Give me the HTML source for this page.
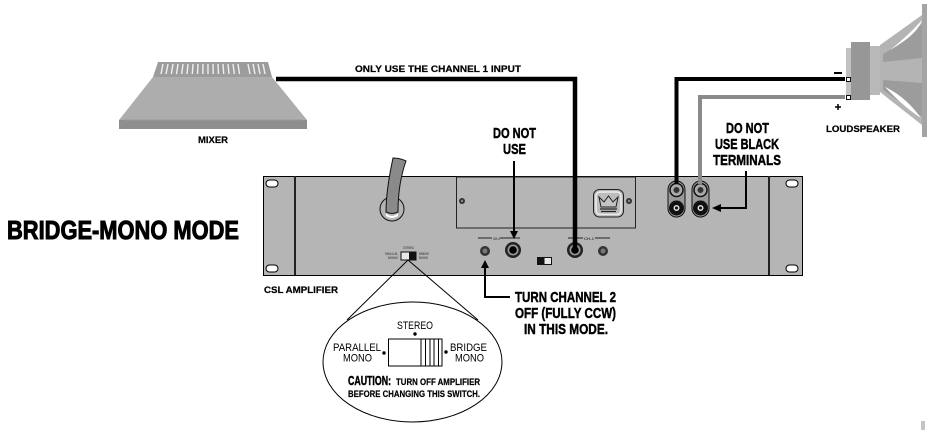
<!DOCTYPE html>
<html><head><meta charset="utf-8"><style>
html,body{margin:0;padding:0;background:#fff;width:941px;height:430px;overflow:hidden}
svg{display:block}
text{font-family:"Liberation Sans",sans-serif;font-weight:bold;fill:#000}
.h{stroke:#000;stroke-width:.45}
.m{stroke:#000;stroke-width:.2}
.n{font-weight:normal}
</style></head><body>
<svg width="941" height="430" viewBox="0 0 941 430" xmlns="http://www.w3.org/2000/svg">
<rect width="941" height="430" fill="#fff"/>

<!-- Mixer -->
<polygon points="158,62 268,62 272,77 153,77" fill="#9c9c9c"/>
<polygon points="153,77 272,77 307,120 119,120" fill="#adadad"/>
<rect x="119" y="120" width="188" height="9" fill="#8e8e8e"/>
<rect x="124" y="119.500" width="178" height="1" fill="#9a9a9a"/>
<g stroke="#f0f0f0" stroke-width="1.400">
<path d="M163,64l-2,10M168,64l-2,10M173,64l-1.700,10M178,64l-1.500,10M183,64l-1.300,10M188,64l-1,10M193,64l-.7,10M198,64l-.5,10M203,64l-.2,10M208,64v10M213,64l.2,10M218,64l.5,10M223,64l.7,10M228,64l1,10M233,64l1.300,10M238,64l1.500,10M248,64l2,10M253,64l2,10M258,64l2,10M263,64l2,10"/>
</g>
<text class="m" x="198" y="143" font-size="9.500" textLength="30" lengthAdjust="spacingAndGlyphs">MIXER</text>

<!-- Amp -->
<rect x="263.500" y="176.500" width="539" height="99" fill="#b5b5b5" stroke="#000" stroke-width="1"/>
<path d="M295,176V275M769,176V275" stroke="#222" stroke-width="2"/>
<g fill="#fff" stroke="#000" stroke-width="1">
<rect x="266" y="180" width="12" height="7" rx="3.500"/>
<rect x="266" y="265" width="12" height="7" rx="3.500"/>
<rect x="786" y="180" width="12" height="7" rx="3.500"/>
<rect x="786" y="265" width="12" height="7" rx="3.500"/>
</g>
<rect x="456.500" y="177" width="179" height="51" fill="#b5b5b5" stroke="#222" stroke-width="1"/>
<circle cx="462" cy="201" r="3" fill="#333"/><circle cx="462" cy="201" r="1.200" fill="#888"/>
<circle cx="629" cy="201" r="3" fill="#333"/><circle cx="629" cy="201" r="1.200" fill="#888"/>
<!-- Grommet and power cord -->
<circle cx="392" cy="209" r="12" fill="#b5b5b5" stroke="#111" stroke-width="1"/>
<path d="M386,213 Q392,219 398,213 L398,216 Q392,220 386,216Z" fill="#fff"/>
<path d="M393,158 C390,172 386,192 386,212 Q392,215 398,212 C398,192 401,175 406,161 Q400,158 393,158 Z" fill="#8a8a8a" stroke="#111" stroke-width="1"/>
<!-- Crown logo -->
<rect x="593.500" y="189.500" width="30" height="27.500" rx="6" fill="#b5b5b5" stroke="#222" stroke-width="1"/>
<rect x="596" y="192" width="25" height="22.500" rx="4" fill="#bdbdbd" stroke="#eee" stroke-width="1.500"/>
<polygon points="599,197 604,202 608.500,196 613,202 618,197 616,207 601,207" fill="#c4c4c4" stroke="#222" stroke-width="1"/>
<path d="M600,209H617M601,211.500H616" stroke="#222" stroke-width="1.300"/>
<!-- Binding posts -->
<rect x="668" y="181" width="17" height="36" rx="8.500" fill="#999" stroke="#111" stroke-width="1"/>
<rect x="692" y="181" width="17" height="36" rx="8.500" fill="#999" stroke="#111" stroke-width="1"/>
<circle cx="676.500" cy="190" r="6.500" fill="#aaa" stroke="#111" stroke-width="1.500"/><circle cx="676.500" cy="190" r="3" fill="#333"/>
<circle cx="700.500" cy="190" r="6.500" fill="#aaa" stroke="#111" stroke-width="1.500"/><circle cx="700.500" cy="190" r="3" fill="#333"/>
<circle cx="676.500" cy="208" r="7.500" fill="#111"/><circle cx="676.500" cy="208" r="3" fill="#ddd"/><circle cx="676.500" cy="208" r="1.500" fill="#111"/>
<circle cx="700.500" cy="208" r="7.500" fill="#111"/><circle cx="700.500" cy="208" r="3" fill="#ddd"/><circle cx="700.500" cy="208" r="1.500" fill="#111"/>
<!-- Channel labels -->
<path d="M478,238H492M500,238H520M568,238H583M595,238H610" stroke="#222" stroke-width="1"/>
<text x="493" y="240" font-size="4" style="fill:#444" textLength="7" lengthAdjust="spacingAndGlyphs">CH-2</text>
<text x="584" y="240" font-size="4" style="fill:#444" textLength="10" lengthAdjust="spacingAndGlyphs">CH-1</text>
<!-- Jacks & knobs -->
<circle cx="485" cy="251" r="5" fill="#333"/><circle cx="485" cy="251" r="2.500" fill="#777"/>
<circle cx="603" cy="251" r="5" fill="#333"/><circle cx="603" cy="251" r="2.500" fill="#777"/>
<circle cx="513" cy="250" r="8" fill="#222"/><circle cx="513" cy="250" r="5.500" fill="#999"/><circle cx="513" cy="250" r="3.800" fill="#000"/>
<circle cx="575" cy="250" r="8" fill="#222"/><circle cx="575" cy="250" r="5.500" fill="#999"/><circle cx="575" cy="250" r="3.800" fill="#000"/>
<!-- small switch -->
<rect x="537.500" y="257.500" width="14" height="7" fill="#e8e8e8" stroke="#111" stroke-width="1"/>
<rect x="537.500" y="257.500" width="7" height="7" fill="#111"/>
<!-- mode switch -->
<rect x="401" y="252" width="15" height="8" fill="#e8e8e8" stroke="#111" stroke-width="1"/>
<rect x="409" y="252" width="7" height="8" fill="#111"/>
<text x="403" y="249" font-size="3.500" style="fill:#555" textLength="11" lengthAdjust="spacingAndGlyphs">STEREO</text>
<text x="385" y="255" font-size="3.500" style="fill:#555" textLength="13" lengthAdjust="spacingAndGlyphs">PARALLEL</text>
<text x="388" y="259" font-size="3.500" style="fill:#555" textLength="10" lengthAdjust="spacingAndGlyphs">MONO</text>
<text x="419" y="255" font-size="3.500" style="fill:#555" textLength="10" lengthAdjust="spacingAndGlyphs">BRIDGE</text>
<text x="419" y="259" font-size="3.500" style="fill:#555" textLength="9" lengthAdjust="spacingAndGlyphs">MONO</text>

<!-- Top cable -->
<path d="M276,79H575V250" fill="none" stroke="#000" stroke-width="4.500"/>

<!-- Speaker -->
<polygon points="880,45 922,15 922,125 880,92" fill="#b4b4b4"/>
<polygon points="883,54 890,50 922,24 922,58 883,62" fill="#9c9c9c"/>
<polygon points="883,80 922,83 922,117 883,90" fill="#9c9c9c"/>
<path d="M890,50 Q908,36 922,20 Q918,34 890,50Z" fill="#fff"/>
<path d="M885,87 Q905,96 921,118 Q905,108 885,87Z" fill="#fff"/>
<rect x="870" y="46" width="10" height="49" fill="#b9b9b9"/>
<rect x="846" y="48" width="5" height="50" fill="#c2c2c2"/>
<rect x="851" y="42" width="19" height="58" fill="#979797"/>
<rect x="922" y="4" width="5" height="133" fill="#a4a4a4"/>
<g fill="#fff" stroke="#111" stroke-width="1">
<rect x="846.500" y="77.500" width="4" height="4"/>
<rect x="846.500" y="95.500" width="4" height="4"/>
</g>
<path d="M676.500,184V79H845" fill="none" stroke="#000" stroke-width="4"/>
<path d="M700,184V97H845" fill="none" stroke="#8a8a8a" stroke-width="4"/>
<rect x="834" y="72" width="8" height="2" fill="#000"/>
<path d="M835,107H841M838,104V110" stroke="#000" stroke-width="1.500"/>

<!-- Labels -->
<text class="m" x="355" y="72" font-size="9.500" textLength="166" lengthAdjust="spacingAndGlyphs">ONLY USE THE CHANNEL 1 INPUT</text>
<text class="m" x="826" y="132" font-size="9.500" textLength="74" lengthAdjust="spacingAndGlyphs">LOUDSPEAKER</text>
<text class="h" x="493" y="138" font-size="14.500" textLength="43" lengthAdjust="spacingAndGlyphs">DO NOT</text>
<text class="h" x="503" y="154" font-size="14.500" textLength="23" lengthAdjust="spacingAndGlyphs">USE</text>
<text class="h" x="726" y="133" font-size="14.500" textLength="43" lengthAdjust="spacingAndGlyphs">DO NOT</text>
<text class="h" x="715" y="149" font-size="14.500" textLength="64" lengthAdjust="spacingAndGlyphs">USE BLACK</text>
<text class="h" x="713" y="165" font-size="14.500" textLength="68" lengthAdjust="spacingAndGlyphs">TERMINALS</text>
<text class="h" x="515" y="302" font-size="14.500" textLength="101" lengthAdjust="spacingAndGlyphs">TURN CHANNEL 2</text>
<text class="h" x="515" y="318" font-size="14.500" textLength="101" lengthAdjust="spacingAndGlyphs">OFF (FULLY CCW)</text>
<text class="h" x="524" y="334" font-size="14.500" textLength="84" lengthAdjust="spacingAndGlyphs">IN THIS MODE.</text>
<text x="7" y="239" font-size="26" textLength="232" lengthAdjust="spacingAndGlyphs" style="stroke:#000;stroke-width:1">BRIDGE-MONO MODE</text>
<text class="m" x="264" y="293" font-size="9.500" textLength="74" lengthAdjust="spacingAndGlyphs">CSL AMPLIFIER</text>

<!-- Arrows -->
<path d="M514,161V232" stroke="#000" stroke-width="2"/>
<polygon points="514,239 510,231 518,231" fill="#000"/>
<path d="M746,171V208H720" fill="none" stroke="#000" stroke-width="2"/>
<polygon points="712,208 721,204 721,212" fill="#000"/>
<path d="M485,266V297H510" fill="none" stroke="#000" stroke-width="2"/>
<polygon points="485,260 481,268 489,268" fill="#000"/>

<!-- Callout -->
<path d="M408,260L347,320M408,260L478,320" stroke="#000" stroke-width="1" fill="none"/>
<ellipse cx="412.500" cy="362" rx="89.500" ry="60" fill="#fff" stroke="#000" stroke-width="1"/>
<rect x="388.500" y="339" width="53.500" height="27" fill="#fff" stroke="#000" stroke-width="1"/>
<path d="M421,339V366M425.500,339V366M430,339V366M434,339V366M438.500,339V366" stroke="#000" stroke-width="1"/>
<g fill="#000"><circle cx="415" cy="334" r="1.700"/><circle cx="384" cy="353" r="1.700"/><circle cx="446" cy="352" r="1.700"/></g>
<text class="n" x="397" y="329" font-size="11" textLength="36" lengthAdjust="spacingAndGlyphs">STEREO</text>
<text class="n" x="333" y="351" font-size="11" textLength="48" lengthAdjust="spacingAndGlyphs">PARALLEL</text>
<text class="n" x="343" y="361.500" font-size="11" textLength="29" lengthAdjust="spacingAndGlyphs">MONO</text>
<text class="n" x="450" y="351" font-size="11" textLength="37" lengthAdjust="spacingAndGlyphs">BRIDGE</text>
<text class="n" x="455" y="361.500" font-size="11" textLength="29" lengthAdjust="spacingAndGlyphs">MONO</text>
<text class="h" x="348" y="385" font-size="13" textLength="43" lengthAdjust="spacingAndGlyphs">CAUTION:</text>
<text class="m" x="396" y="385" font-size="9.500" textLength="84" lengthAdjust="spacingAndGlyphs">TURN OFF AMPLIFIER</text>
<text class="m" x="348" y="397" font-size="9.500" textLength="132" lengthAdjust="spacingAndGlyphs">BEFORE CHANGING THIS SWITCH.</text>

<rect x="921" y="421" width="4" height="9" fill="#c4c4c4"/>
</svg>
</body></html>
